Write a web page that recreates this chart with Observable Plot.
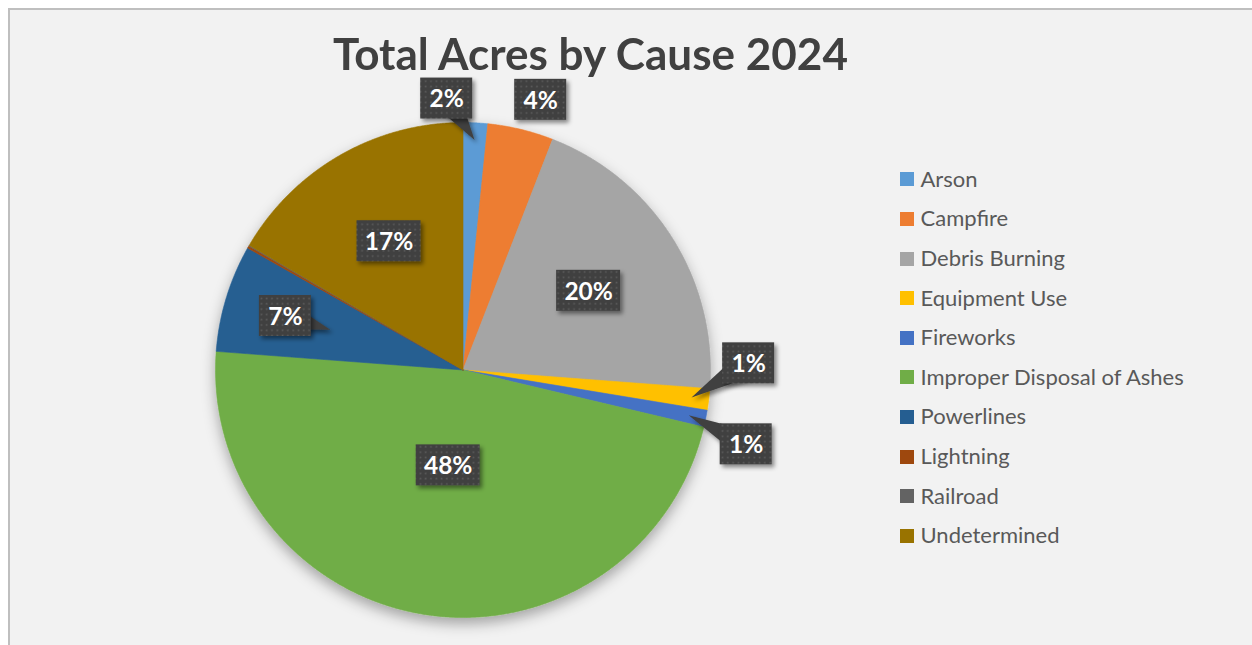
<!DOCTYPE html>
<html><head><meta charset="utf-8">
<script src="https://cdn.jsdelivr.net/npm/d3@7"></script>
<script src="https://cdn.jsdelivr.net/npm/@observablehq/plot@0.6"></script>
<style>
html,body{margin:0;padding:0;background:#fff;width:1252px;height:645px;overflow:hidden;}
#frame{position:absolute;left:8px;top:8px;width:1244px;height:637px;background:#f2f2f2;border-left:2px solid #bfbfbf;border-top:2px solid #bfbfbf;box-sizing:border-box;overflow:hidden;}
#chart{position:absolute;left:0;top:0;}
#title{position:absolute;left:0;top:0;font-family:Lato,sans-serif;font-weight:bold;font-size:44px;color:#404040;white-space:nowrap;line-height:1;transform-origin:0 0;}
#legend{position:absolute;left:0;top:0;font-family:Lato,sans-serif;font-size:22px;color:#595959;}
.li{position:absolute;white-space:nowrap;line-height:1;}
.sw{position:absolute;width:14px;height:14px;}
</style></head>
<body>
<svg width="0" height="0" style="position:absolute">
<defs>
<pattern id="dots" width="5.3" height="5.3" patternUnits="userSpaceOnUse">
<rect width="5.3" height="5.3" fill="#404040"/>
<rect x="1.5" y="1.5" width="1.6" height="1.6" fill="#5c5c5c"/>
</pattern>
<filter id="pieShadow" x="-20%" y="-20%" width="140%" height="145%">
<feDropShadow dx="0" dy="6" stdDeviation="7" flood-color="#000" flood-opacity="0.33"/>
</filter>
<filter id="boxShadow" x="-30%" y="-30%" width="170%" height="170%">
<feDropShadow dx="2.5" dy="3" stdDeviation="2" flood-color="#000" flood-opacity="0.45"/>
</filter>
</defs>
</svg>
<div id="frame"><div id="chart"></div><div id="title"></div><div id="legend"></div></div>
<script>
// ---- data ----
const causes = ["Arson","Campfire","Debris Burning","Equipment Use","Fireworks","Improper Disposal of Ashes","Powerlines","Lightning","Railroad","Undetermined"];
const acresShare = [1.6, 4.3, 20.3, 1.4, 1.1, 47.5, 7.0, 0.15, 0.05, 16.6];
const colors = ["#5B9BD5","#ED7D31","#A5A5A5","#FFC000","#4472C4","#70AD47","#255E91","#9E480E","#636363","#997300"];
const chartTitle = "Total Acres by Cause 2024";

// ---- layout ----
const W = 1242, H = 635, R = 247.5, CX = 452.5, CY = 359.5;
const total = d3.sum(acresShare);
let acc = 0;
const slices = causes.map((c, i) => {
  const a0 = acc / total * 2 * Math.PI; acc += acresShare[i];
  const a1 = acc / total * 2 * Math.PI;
  return {cause: c, share: acresShare[i] / total * 100, a0, a1, mid: (a0 + a1) / 2};
});

const pts = [];
slices.forEach(s => {
  pts.push({cause: s.cause, x: 0, y: 0});
  const n = Math.max(2, Math.ceil((s.a1 - s.a0) / (Math.PI / 720)));
  for (let k = 0; k <= n; k++) {
    const a = s.a0 + (s.a1 - s.a0) * k / n;
    pts.push({cause: s.cause, x: Math.sin(a), y: Math.cos(a)});
  }
  pts.push({cause: s.cause, x: 0, y: 0});
});

// labels
const BH = 41;
const labels = slices.filter(s => Math.round(s.share) >= 1).map(s => {
  const text = Math.round(s.share) + "%";
  const w = 28 + 12 * text.length;
  const sn = Math.sin(s.mid), cs = Math.cos(s.mid);
  let r, tipR = null, outside = false, pointer = false;
  if (s.share >= 30) r = 0.39;
  else if (s.share >= 10) r = 0.6;
  else if (s.share >= 5) { r = 0.75; tipR = 0.56; pointer = true; }
  else {
    const ext = (w / 2) * Math.abs(sn) + (BH / 2) * Math.abs(cs);
    r = (R + 2 + 10 * Math.abs(sn) + ext) / R; tipR = 0.93; outside = true;
  }
  return {text, mid: s.mid, r, tipR, outside, pointer, x: r * sn, y: r * cs, w};
});
// dodge neighbouring outside labels: vertically on the sides, horizontally at top/bottom
const outs = labels.filter(l => l.outside);
for (let i = 0; i + 1 < outs.length; i++) {
  const a = outs[i], b = outs[i + 1];
  const m = (a.mid + b.mid) / 2;
  const side = Math.abs(Math.sin(m)) > 0.7;
  const minSep = (side ? BH + 40 : (a.w + b.w) / 2 + 42) / R;
  const d = side ? Math.abs(b.y - a.y) : Math.abs(b.x - a.x);
  if (d < minSep) {
    const dir = side ? -Math.sign(Math.sin(m)) : Math.sign(Math.cos(m));
    const def = minSep - d;
    if (side) { a.y -= dir * def * 0.7; b.y += dir * def * 0.3; }
    else { a.x -= dir * def * 0.7; b.x += dir * def * 0.3; }
    if (def * 0.7 * R > 15) a.pointer = true;
    if (def * 0.3 * R > 15) b.pointer = true;
  }
}
const bh = BH / R;
const boxes = labels.map(l => ({x1: l.x - l.w / 2 / R, x2: l.x + l.w / 2 / R, y1: l.y - bh / 2, y2: l.y + bh / 2}));
const tri = [];
labels.forEach((l, i) => {
  if (!l.pointer) return;
  const tx = l.tipR * Math.sin(l.mid), ty = l.tipR * Math.cos(l.mid);
  const dx = tx - l.x, dy = ty - l.y, len = Math.hypot(dx, dy);
  const px = -dy / len, py = dx / len, hb = 14 / R;
  tri.push({id: i, x: l.x + px * hb, y: l.y + py * hb});
  tri.push({id: i, x: tx, y: ty});
  tri.push({id: i, x: l.x - px * hb, y: l.y - py * hb});
});

const plot = Plot.plot({
  width: W, height: H, margin: 0,
  style: {background: "transparent", overflow: "visible"},
  x: {domain: [-CX / R, (W - CX) / R], range: [0, W], axis: null},
  y: {domain: [-(H - CY) / R, CY / R], range: [H, 0], axis: null},
  color: {domain: causes, range: colors},
  marks: [
    Plot.line(pts, {x: "x", y: "y", z: "cause", fill: "cause", stroke: "cause", strokeWidth: 0.6, curve: "linear", ariaDescription: "pie"}),
    Plot.line(tri, {x: "x", y: "y", z: "id", fill: "#404040", stroke: "none", curve: "linear", ariaDescription: "pointers"}),
    Plot.rect(boxes, {x1: "x1", x2: "x2", y1: "y1", y2: "y2", fill: "url(#dots)", ariaDescription: "boxes"}),
    Plot.text(labels, {x: "x", y: "y", text: "text", fill: "white", fontSize: 24.5, fontWeight: "bold", fontFamily: "Lato, sans-serif", dy: 1})
  ]
});
plot.querySelector('g[aria-description="pie"]').setAttribute("filter", "url(#pieShadow)");
plot.querySelector('g[aria-description="pointers"]').setAttribute("filter", "url(#boxShadow)");
plot.querySelector('g[aria-description="boxes"]').setAttribute("filter", "url(#boxShadow)");
document.getElementById("chart").appendChild(plot);

// title (page coords minus frame offset 10)
const t = document.getElementById("title");
t.textContent = chartTitle;
const tw = t.getBoundingClientRect().width;
const sx = 515 / tw;
t.style.transform = `scaleX(${sx})`;
t.style.left = (590.5 - 10 - 515 / 2) + "px";
t.style.top = (31 - 10) + "px";

// legend
const lg = document.getElementById("legend");
causes.forEach((c, i) => {
  const yc = 179.3 + i * 39.6 - 10;
  const sw = document.createElement("div");
  sw.className = "sw"; sw.style.background = colors[i];
  sw.style.left = (900 - 10) + "px"; sw.style.top = (yc - 7) + "px";
  lg.appendChild(sw);
  const tx = document.createElement("div");
  tx.className = "li"; tx.textContent = c;
  tx.style.left = (920.5 - 10) + "px"; tx.style.top = (yc - 11.5) + "px";
  lg.appendChild(tx);
});
</script>
</body></html>
